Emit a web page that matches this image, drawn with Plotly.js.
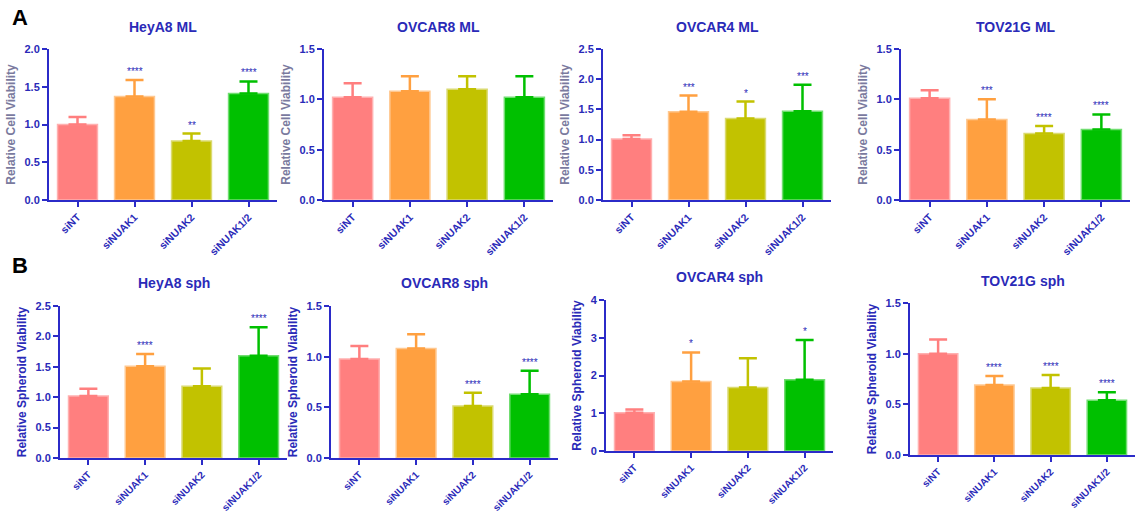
<!DOCTYPE html>
<html>
<head>
<meta charset="utf-8">
<script src="https://cdn.plot.ly/plotly-3.0.1.min.js"></script>
<style>html,body{margin:0;padding:0;background:#fff;}#chart{width:1135px;height:512px;}</style>
</head>
<body>
<div id="chart"></div>
<script>
const categories = ["siNT", "siNUAK1", "siNUAK2", "siNUAK1/2"];

const titles = ["HeyA8 ML", "OVCAR8 ML", "OVCAR4 ML", "TOV21G ML",
                "HeyA8 sph", "OVCAR8 sph", "OVCAR4 sph", "TOV21G sph"];

const heya8ML      = [1.00, 1.37, 0.78, 1.41];
const heya8MLErr   = [0.10, 0.22, 0.10, 0.16];
const ovcar8ML     = [1.02, 1.08, 1.10, 1.02];
const ovcar8MLErr  = [0.14, 0.15, 0.13, 0.21];
const ovcar4ML     = [1.01, 1.46, 1.35, 1.47];
const ovcar4MLErr  = [0.06, 0.27, 0.28, 0.44];
const tov21gML     = [1.01, 0.80, 0.66, 0.70];
const tov21gMLErr  = [0.08, 0.20, 0.075, 0.15];

const heya8Sph     = [1.02, 1.51, 1.18, 1.68];
const heya8SphErr  = [0.12, 0.20, 0.29, 0.47];
const ovcar8Sph    = [0.976, 1.08, 0.514, 0.63];
const ovcar8SphErr = [0.13, 0.14, 0.13, 0.23];
const ovcar4Sph    = [1.01, 1.84, 1.68, 1.89];
const ovcar4SphErr = [0.09, 0.77, 0.78, 1.05];
const tov21gSph    = [1.00, 0.69, 0.66, 0.54];
const tov21gSphErr = [0.14, 0.09, 0.13, 0.08];

const heya8MLStars   = ["", "****", "**", "****"];
const ovcar8MLStars  = ["", "", "", ""];
const ovcar4MLStars  = ["", "***", "*", "***"];
const tov21gMLStars  = ["", "***", "****", "****"];
const heya8SphStars  = ["", "****", "", "****"];
const ovcar8SphStars = ["", "", "****", "****"];
const ovcar4SphStars = ["", "*", "", "*"];
const tov21gSphStars = ["", "****", "****", "****"];

const yMax = [2.0, 1.5, 2.5, 1.5, 2.5, 1.5, 4, 1.5];
const yStep = [0.5, 0.5, 0.5, 0.5, 0.5, 0.5, 1, 0.5];

const values = [heya8ML, ovcar8ML, ovcar4ML, tov21gML, heya8Sph, ovcar8Sph, ovcar4Sph, tov21gSph];
const errs = [heya8MLErr, ovcar8MLErr, ovcar4MLErr, tov21gMLErr, heya8SphErr, ovcar8SphErr, ovcar4SphErr, tov21gSphErr];
const stars = [heya8MLStars, ovcar8MLStars, ovcar4MLStars, tov21gMLStars, heya8SphStars, ovcar8SphStars, ovcar4SphStars, tov21gSphStars];

const barColors = ["#FF7F7F", "#FFA040", "#C2C200", "#00C000"];
const edgeColors = ["#FFB0B0", "#FFC890", "#DADA70", "#70DD70"];

// layout boxes in pixels: [x0, x1, yTop, yBottom]
const W = 1135, H = 512;
const boxes = [
  [49, 277, 49, 200], [324, 553, 49, 200], [603, 831, 49, 200], [901, 1130, 49, 200],
  [60, 287, 306, 458], [331, 558, 306, 458], [606, 833, 300, 451], [910, 1135, 303, 455]
];
const titleY = [27, 27, 27, 27, 283, 283, 277, 281];

const axisBlue = "#2B2BC8";
const textBlue = "#2A2AB8";
const FONT = "Liberation Sans, Arial, sans-serif";

const data = [];
const layout = {
  width: W, height: H,
  margin: {l: 0, r: 0, t: 0, b: 0},
  paper_bgcolor: "#fff", plot_bgcolor: "#fff",
  showlegend: false,
  font: {family: FONT, color: textBlue},
  annotations: []
};

for (let i = 0; i < 8; i++) {
  const n = i + 1;
  const xa = "x" + (n === 1 ? "" : n), ya = "y" + (n === 1 ? "" : n);
  const b = boxes[i];
  data.push({
    type: "bar",
    x: categories,
    y: values[i],
    xaxis: xa, yaxis: ya,
    width: 0.7,
    marker: {color: barColors, line: {color: edgeColors, width: 1.5}},
    hoverinfo: "skip"
  });
  for (let k = 0; k < 4; k++) {
    data.push({
      type: "scatter",
      mode: "markers",
      x: [categories[k]],
      y: [values[i][k]],
      xaxis: xa, yaxis: ya,
      marker: {size: 1, color: "rgba(0,0,0,0)"},
      error_y: {
        type: "data", symmetric: false,
        array: [errs[i][k]], arrayminus: [0],
        color: barColors[k], thickness: 2.5, width: 9
      },
      hoverinfo: "skip"
    });
  }
  const isA = i < 4;
  const xKey = "xaxis" + (n === 1 ? "" : n), yKey = "yaxis" + (n === 1 ? "" : n);
  layout[xKey] = {
    domain: [b[0] / W, b[1] / W],
    anchor: ya,
    type: "category",
    range: [-0.5, 3.5],
    showline: true, linecolor: axisBlue, linewidth: 2,
    ticks: "outside", ticklen: 5, tickwidth: 2, tickcolor: axisBlue,
    tickangle: -45,
    tickfont: {size: isA ? 10.5 : 10, color: textBlue, weight: "bold", family: FONT},
    showgrid: false, zeroline: false, fixedrange: true
  };
  layout[yKey] = {
    domain: [1 - b[3] / H, 1 - b[2] / H],
    anchor: xa,
    range: [0, yMax[i]],
    dtick: yStep[i], tick0: 0,
    tickformat: yStep[i] >= 1 ? "d" : ".1f",
    showline: true, linecolor: axisBlue, linewidth: 2,
    ticks: "outside", ticklen: 5, tickwidth: 2, tickcolor: axisBlue,
    tickfont: {size: 11, color: textBlue, weight: "bold", family: FONT},
    showgrid: false, zeroline: false, fixedrange: true,
    title: {
      text: isA ? "Relative Cell Viability" : "Relative Spheroid Viability",
      font: {size: 12, color: isA ? "#7A7A9E" : textBlue, weight: "bold", family: FONT},
      standoff: 6
    }
  };
  layout.annotations.push({
    xref: "paper", yref: "paper",
    x: (b[0] + b[1]) / 2 / W, y: 1 - titleY[i] / H,
    text: titles[i], showarrow: false,
    xanchor: "center", yanchor: "middle",
    font: {size: 14, color: textBlue, weight: "bold", family: FONT}
  });
  for (let k = 0; k < 4; k++) {
    if (stars[i][k]) {
      layout.annotations.push({
        xref: xa, yref: ya,
        x: categories[k], y: values[i][k] + errs[i][k],
        text: stars[i][k], showarrow: false,
        xanchor: "center", yanchor: "bottom", yshift: 1,
        font: {size: 10, color: textBlue, family: FONT}
      });
    }
  }
}

layout.annotations.push({
  xref: "paper", yref: "paper", x: 10 / W, y: 1 - 17 / H,
  text: "A", showarrow: false, xanchor: "left", yanchor: "middle",
  font: {size: 22, color: "#000", weight: "bold", family: FONT}
});
layout.annotations.push({
  xref: "paper", yref: "paper", x: 10 / W, y: 1 - 265 / H,
  text: "B", showarrow: false, xanchor: "left", yanchor: "middle",
  font: {size: 22, color: "#000", weight: "bold", family: FONT}
});

Plotly.newPlot("chart", data, layout, {displayModeBar: false, staticPlot: true});
</script>
</body>
</html>
